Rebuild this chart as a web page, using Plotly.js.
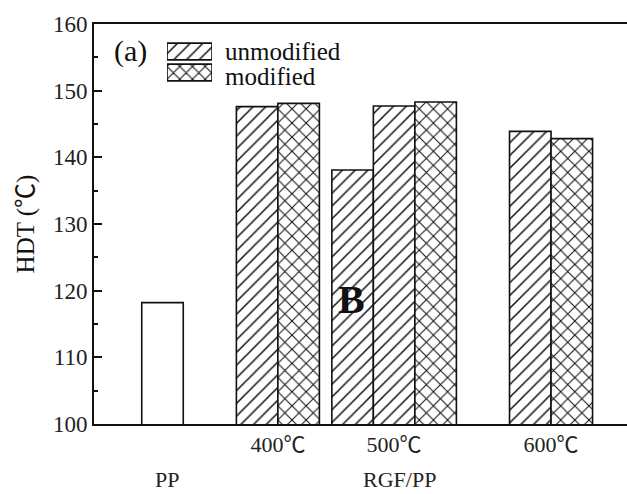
<!DOCTYPE html>
<html>
<head>
<meta charset="utf-8">
<script src="https://cdn.plot.ly/plotly-3.0.1.min.js"></script>
<style>html,body{margin:0;padding:0;background:#fff;}#chart{width:627px;height:494px;}</style>
</head>
<body>
<div id="chart"></div>
<script>
// ---- data ----
const groups = ['PP', '400℃', '500℃', '600℃'];
const ppHDT = [118.2];                       // neat PP
const rgfGroups = ['400℃', '500℃', '600℃'];
const unmodifiedHDT = [147.6, 147.7, 143.9];  // unmodified RGF/PP
const modifiedHDT = [148.1, 148.3, 142.8];    // modified RGF/PP
const sampleBGroups = ['500℃'];
const sampleBHDT = [138.1];                   // extra sample "B" at 500℃
const seriesNames = ['unmodified', 'modified'];
const yTicks = [100, 110, 120, 130, 140, 150, 160];

// ---- layout helpers (positions, not data) ----
const groupCenter = {'PP': 1.65, '400℃': 4.43, '500℃': 7.23, '600℃': 11.01};
const unmodOffset = {'400℃': -0.5, '500℃': 0, '600℃': -0.5};
const modOffset = {'400℃': 0.5, '500℃': 1, '600℃': 0.5};
const bOffset = {'500℃': -1};

const serif = 'Liberation Serif, Noto Sans CJK SC, serif';
const ink = '#111';
const outline = {color: ink, width: 1.6};
const hatch = {shape: '/', fgcolor: ink, bgcolor: '#fff', size: 9, solidity: 0.17};
const cross = {shape: 'x', fgcolor: ink, bgcolor: '#fff', size: 10, solidity: 0.2};

const traces = [
  {
    type: 'bar', name: 'PP', showlegend: false,
    x: ['PP'].map(g => groupCenter[g]), y: ppHDT,
    width: 1, marker: {color: '#fff', line: outline}
  },
  {
    type: 'bar', name: 'sample B', showlegend: false,
    x: sampleBGroups.map(g => groupCenter[g] + bOffset[g]), y: sampleBHDT,
    width: 1, marker: {color: '#fff', line: outline, pattern: hatch}
  },
  {
    type: 'bar', name: seriesNames[0], showlegend: false,
    x: rgfGroups.map(g => groupCenter[g] + unmodOffset[g]), y: unmodifiedHDT,
    width: 1, marker: {color: '#fff', line: outline, pattern: hatch}
  },
  {
    type: 'bar', name: seriesNames[1], showlegend: false,
    x: rgfGroups.map(g => groupCenter[g] + modOffset[g]), y: modifiedHDT,
    width: 1, marker: {color: '#fff', line: outline, pattern: cross}
  },
  // legend swatches (wide hatched key boxes) drawn on a small inset axis
  {
    type: 'bar', orientation: 'h', name: 'key', showlegend: false,
    xaxis: 'x2', yaxis: 'y2',
    y: seriesNames, x: seriesNames.map(() => 1), width: 0.8,
    marker: {color: '#fff', line: {color: ink, width: 1.6},
      pattern: {shape: ['/', 'x'], fgcolor: ink, bgcolor: '#fff', size: [9, 9], solidity: [0.17, 0.22]}}
  }
];

const layout = {
  width: 627, height: 494,
  margin: {l: 94, r: 0, t: 24, b: 70},
  paper_bgcolor: '#fff', plot_bgcolor: '#fff',
  barmode: 'overlay',
  font: {family: serif, size: 22, color: ink},
  showlegend: false,
  xaxis: {
    range: [0, 12.84], showgrid: false, zeroline: false,
    showline: true, linecolor: ink, linewidth: 2, mirror: true,
    ticks: '', tickvals: rgfGroups.map(g => groupCenter[g]), ticktext: rgfGroups,
    tickfont: {family: serif, size: 22, color: '#222'}
  },
  yaxis: {
    range: [100, 160], tickvals: yTicks, showgrid: false, zeroline: false,
    showline: true, linecolor: ink, linewidth: 2,
    ticks: 'inside', ticklen: 8, tickwidth: 2, tickcolor: ink,
    minor: {ticks: 'inside', ticklen: 4, dtick: 5, tickwidth: 2, tickcolor: ink, showgrid: false},
    tickfont: {family: serif, size: 23, color: '#222'},
    title: {text: 'HDT (℃)', font: {family: serif, size: 25, color: ink}, standoff: 11}
  },
  xaxis2: {domain: [0.137, 0.2214], anchor: 'y2', range: [0, 1], visible: false, fixedrange: true},
  yaxis2: {domain: [0.8525, 0.9575], anchor: 'x2', autorange: 'reversed', visible: false,
    type: 'category', fixedrange: true},
  annotations: [
    {text: '(a)', xref: 'paper', yref: 'paper', x: 0.069, y: 0.932, xanchor: 'center', yanchor: 'middle',
      showarrow: false, font: {family: serif, size: 30, color: ink}},
    {text: seriesNames[0], xref: 'paper', yref: 'paper', x: 0.242, y: 0.9325, xanchor: 'left', yanchor: 'middle',
      showarrow: false, font: {family: serif, size: 25, color: ink}},
    {text: seriesNames[1], xref: 'paper', yref: 'paper', x: 0.242, y: 0.87, xanchor: 'left', yanchor: 'middle',
      showarrow: false, font: {family: serif, size: 25, color: ink}},
    {text: '<b>B</b>', xref: 'paper', yref: 'paper', x: 0.484, y: 0.3125, xanchor: 'center', yanchor: 'middle',
      showarrow: false, font: {family: serif, size: 40, color: ink}},
    {text: groups[0], xref: 'paper', yref: 'paper', x: 0.137, y: -0.138, xanchor: 'center', yanchor: 'middle',
      showarrow: false, font: {family: serif, size: 22, color: '#222'}},
    {text: 'RGF/PP', xref: 'paper', yref: 'paper', x: 0.574, y: -0.138, xanchor: 'center', yanchor: 'middle',
      showarrow: false, font: {family: serif, size: 22, color: '#222'}}
  ]
};

Plotly.newPlot('chart', traces, layout, {displayModeBar: false, staticPlot: true});
</script>
</body>
</html>
